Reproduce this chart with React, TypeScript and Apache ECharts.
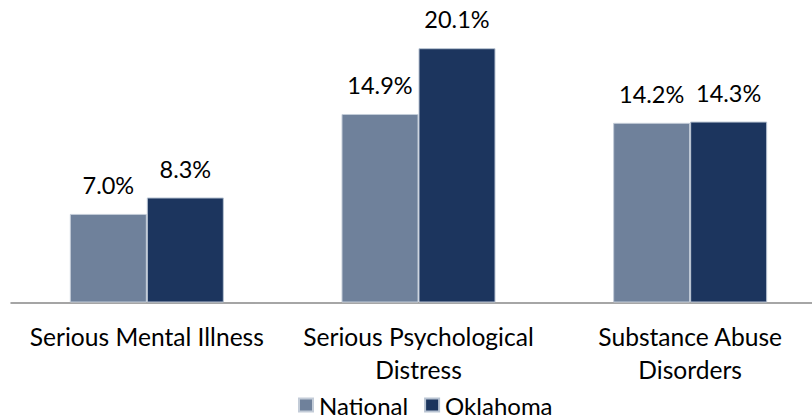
import React, { useEffect, useRef } from "react";
import * as echarts from "echarts";

const categories = ["Serious Mental Illness", "Serious Psychological\nDistress", "Substance Abuse\nDisorders"];
const nationalValues = [7.0, 14.9, 14.2];
const oklahomaValues = [8.3, 20.1, 14.3];
const seriesNames = ["National", "Oklahoma"];

const FONT = "Lato";

export default function App() {
  const ref = useRef<HTMLDivElement>(null);
  useEffect(() => {
    if (!ref.current) return;
    const chart = echarts.init(ref.current, null, { renderer: "svg" });
    const label = {
      show: true,
      position: "top" as const,
      distance: 17,
      color: "#000",
      fontFamily: FONT,
      fontSize: 23.5,
      lineHeight: 23.5,
      formatter: (p: any) => Number(p.value).toFixed(1) + "%",
    };
    chart.setOption({
      animation: false,
      textStyle: { fontFamily: FONT },
      grid: { left: 11, top: 11.5, right: 4, bottom: 116.5, containLabel: false },
      legend: {
        left: 298,
        top: 393,
        padding: 0,
        itemWidth: 14,
        itemHeight: 13,
        itemGap: 16,
        icon: "rect",
        textStyle: {
          fontFamily: FONT,
          fontSize: 24,
          lineHeight: 23,
          color: "#000",
          padding: [0, 0, 0, 1],
        },
        data: seriesNames,
      },
      xAxis: {
        type: "category",
        data: categories,
        axisLine: { show: true, lineStyle: { color: "#888888", width: 1.5 } },
        axisTick: { show: false },
        axisLabel: {
          fontFamily: FONT,
          fontSize: 24.6,
          lineHeight: 33,
          margin: 17,
          color: "#000",
          interval: 0,
        },
      },
      yAxis: {
        type: "value",
        min: 0,
        max: 23,
        show: false,
        splitLine: { show: false },
      },
      series: [
        {
          name: seriesNames[0],
          type: "bar",
          data: nationalValues,
          barWidth: 77,
          barGap: "0%",
          itemStyle: { color: "#6F819B", borderColor: "#c3ccd8", borderWidth: 1 },
          label,
        },
        {
          name: seriesNames[1],
          type: "bar",
          data: oklahomaValues,
          barWidth: 77,
          barGap: "0%",
          itemStyle: { color: "#1C355E", borderColor: "#b8c3d2", borderWidth: 1 },
          label,
        },
      ],
    });
    return () => chart.dispose();
  }, []);
  return (
    <div
      style={{
        position: "fixed",
        left: 0,
        top: 0,
        width: 812,
        height: 419,
        overflow: "hidden",
        background: "#fff",
      }}
    >
      <div ref={ref} style={{ width: 830, height: 419 }} />
    </div>
  );
}
